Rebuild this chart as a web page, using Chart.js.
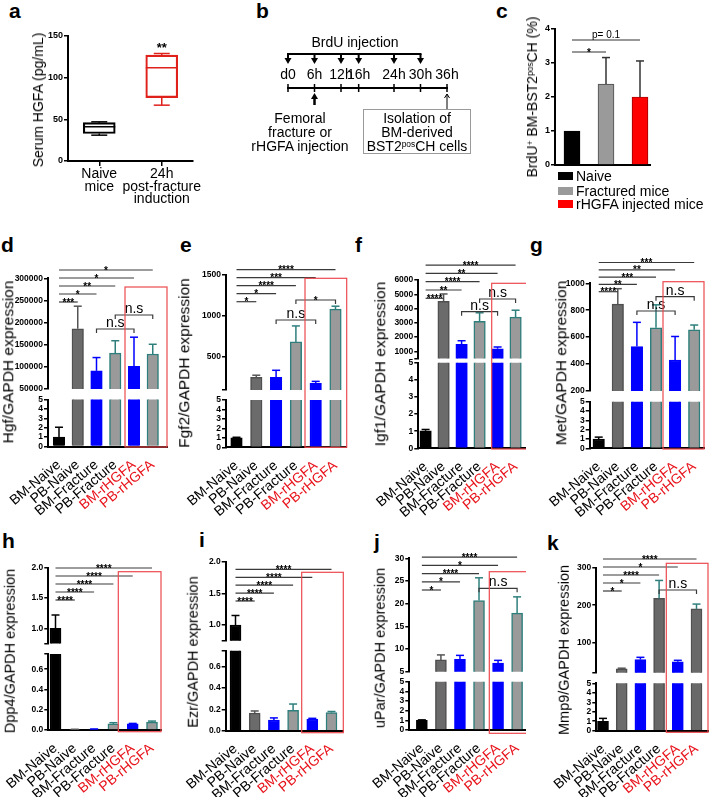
<!DOCTYPE html>
<html>
<head>
<meta charset="utf-8">
<script src="https://cdn.jsdelivr.net/npm/chart.js@4.4.1/dist/chart.umd.min.js"></script>
<style>
  html, body { margin:0; padding:0; background:#fff; }
  body { width:709px; height:797px; position:relative; overflow:hidden; font-family:"Liberation Sans", Arial, Helvetica, sans-serif; color:#000; }
  canvas { position:absolute; }
  .t { position:absolute; white-space:nowrap; line-height:1; }
  .letter { font-weight:bold; font-size:21px; }
  .ytitle { transform: translate(-50%, -50%) rotate(-90deg); }
  .ctr { transform: translate(-50%, -50%); }
  sup { font-size:0.6em; vertical-align: 0.5em; line-height:0; }
</style>
</head>
<body>
<script>
// ---------------- DATA ----------------
// Panel a: serum HGFA box plot
const hgfaGroups = [['Naive', 'mice'], ['24h', 'post-fracture', 'induction']];
const hgfaMin = [31, 67];
const hgfaQ1 = [33, 76];
const hgfaMedian = [41, 112];
const hgfaQ3 = [46, 127];
const hgfaMax = [47, 129];
const hgfaSig = ['', '**'];
const hgfaTicks = [0, 50, 100, 150];

// Panel b: timeline
const timeHours = [0, 6, 12, 16, 24, 30, 36];
const timeLabels = ['d0', '6h', '12h', '16h', '24h', '30h', '36h'];
const brduHours = [0, 6, 12, 16, 24, 30];
const fractureHour = [6];
const isolationHour = [36];

// Panel c: BrdU+ cells
const brduGroups = ['Naive', 'Fractured mice', 'rHGFA injected mice'];
const brduMean = [1.0, 2.38, 2.0];
const brduSD = [0, 0.78, 1.06];
const brduTicks = [0, 1, 2, 3, 4];
const brduCompare = [[0, 1, '*'], [0, 2, 'p= 0.1']];

// Panels d-k: gene expression
const groups = ['BM-Naive', 'PB-Naive', 'BM-Fracture', 'PB-Fracture', 'BM-rHGFA', 'PB-rHGFA'];

const hgfMean = [1.0, 186000, 91000, 131000, 101000, 129000];
const hgfSD = [1.05, 51000, 30000, 28000, 66000, 22000];
const hgfUpperTicks = [50000, 100000, 150000, 200000, 250000, 300000];
const hgfLowerTicks = [0, 1, 2, 3, 4, 5];
const hgfBreak = [5, 50000];
const hgfStars = ['***', '*', '**', '*', '*'];
const hgfPairs = [[2, 4, 'n.s'], [3, 5, 'n.s']];

const fgf2Mean = [1.0, 255, 255, 685, 180, 1085];
const fgf2SD = [0.06, 25, 85, 195, 25, 35];
const fgf2UpperTicks = [500, 1000, 1500];
const fgf2LowerTicks = [0, 1, 2, 3, 4, 5];
const fgf2Break = [5, 100];
const fgf2Stars = ['*', '*', '****', '***', '****'];
const fgf2Pairs = [[2, 4, 'n.s'], [3, 5, '*']];

const igf1Mean = [1.02, 4500, 1480, 3100, 1180, 3400];
const igf1SD = [0.08, 520, 260, 600, 120, 480];
const igf1UpperTicks = [1000, 2000, 3000, 4000, 5000, 6000];
const igf1LowerTicks = [0, 1, 2, 3, 4, 5];
const igf1Break = [5, 500];
const igf1Stars = ['****', '**', '****', '**', '****'];
const igf1Pairs = [[2, 4, 'n.s'], [3, 5, 'n.s']];

const metMean = [1.0, 845, 530, 670, 430, 655];
const metSD = [0.2, 115, 180, 170, 175, 35];
const metUpperTicks = [200, 400, 600, 800, 1000];
const metLowerTicks = [0, 1, 2, 3, 4, 5];
const metBreak = [5, 200];
const metStars = ['****', '**', '***', '**', '***'];
const metPairs = [[2, 4, 'n.s'], [3, 5, 'n.s']];

const dpp4Mean = [1.0, 0.005, 0.008, 0.06, 0.06, 0.078];
const dpp4SD = [0.22, 0.002, 0.002, 0.012, 0.005, 0.01];
const dpp4UpperTicks = [1.0, 1.5, 2.0];
const dpp4LowerTicks = [0, 0.2, 0.4, 0.6];
const dpp4Break = [0.75, 0.75];
const dpp4Stars = ['****', '****', '****', '****', '****'];

const ezrMean = [1.0, 0.165, 0.1, 0.19, 0.11, 0.17];
const ezrSD = [0.15, 0.02, 0.02, 0.06, 0.006, 0.01];
const ezrUpperTicks = [1.0, 1.5, 2.0];
const ezrLowerTicks = [0, 0.2, 0.4, 0.6];
const ezrBreak = [0.75, 0.75];
const ezrStars = ['****', '****', '****', '****', '****'];

const uparMean = [1.0, 7.6, 7.7, 20.7, 6.9, 17.9];
const uparSD = [0.05, 1.1, 0.9, 5.0, 0.6, 3.6];
const uparUpperTicks = [5, 10, 15, 20, 25, 30];
const uparLowerTicks = [0, 1, 2, 3, 4, 5];
const uparBreak = [5, 5];
const uparStars = ['*', '*', '****', '*', '****'];
const uparPairs = [[3, 5, 'n.s']];

const mmp9Mean = [1.0, 30, 55, 218, 49, 190];
const mmp9SD = [0.3, 2, 6, 48, 4, 13];
const mmp9UpperTicks = [100, 200, 300];
const mmp9LowerTicks = [0, 1, 2, 3, 4, 5];
const mmp9Break = [5, 20];
const mmp9Stars = ['*', '*', '****', '*', '****'];
const mmp9Pairs = [[3, 5, 'n.s']];

// ---------------- STYLE ----------------
const FONT = '"Liberation Sans", Arial, Helvetica, sans-serif';
const RED = '#e8141c';
const barFill = ['#000000', '#6b6b6b', '#0000ff', '#9a9a9a', '#0000ff', '#9a9a9a'];
const barBorder = ['#000000', '#4f4f4f', '#0000ff', '#2e7f7c', '#0000ff', '#2e7f7c'];
const barErr = ['#000000', '#555555', '#0000ff', '#2e7f7c', '#0000ff', '#2e7f7c'];
const darkFill = ['#000000', '#6b6b6b', '#0000ff', '#686868', '#0000ff', '#686868'];
const darkBorder = ['#000000', '#4f4f4f', '#0000ff', '#505050', '#0000ff', '#505050'];
const groupLabelColors = ['#000', '#000', '#000', '#000', RED, RED];
const hgfaColors = ['#000000', '#e0201b'];
const brduFill = ['#000000', '#9a9a9a', '#ff0000'];
const brduBorder = ['#000000', '#5a5a5a', '#b00000'];

Chart.defaults.font.family = FONT;
Chart.defaults.color = '#000';

function canvasAt(l, t, w, h) {
  const c = document.createElement('canvas');
  c.width = w; c.height = h;
  Object.assign(c.style, { left: l + 'px', top: t + 'px', width: w + 'px', height: h + 'px' });
  document.body.appendChild(c);
  return c;
}
function addDiv(html, css, cls) {
  const d = document.createElement('div');
  d.className = 't ' + (cls || '');
  d.innerHTML = html;
  d.style.cssText += css;
  document.body.appendChild(d);
  return d;
}
function seg(ctx, x0, y0, x1, y1) { ctx.beginPath(); ctx.moveTo(x0, y0); ctx.lineTo(x1, y1); ctx.stroke(); }

function yAxis(min, max, ticks, width, fmt, size) {
  return {
    type: 'linear', min: min, max: max, offset: false,
    afterBuildTicks: s => {
      const vals = Array.from(new Set([min, ...ticks, max])).sort((a, b) => a - b);
      s.ticks = vals.map(v => ({ value: v }));
    },
    afterFit: s => { s.width = width; s.paddingTop = 0; s.paddingBottom = 0; },
    ticks: { autoSkip: false, padding: 1, color: '#000', font: { size: size, weight: 'bold' },
      callback: v => ticks.includes(v) ? fmt(v) : '' },
    grid: { display: true, drawOnChartArea: false, drawTicks: true, tickLength: 4, color: '#000', lineWidth: 1.5 },
    border: { display: true, color: '#000', width: 2 }
  };
}
function baseOpts(padding, scales) {
  return { responsive: false, devicePixelRatio: 1, animation: false, events: [],
    layout: { padding: padding }, scales: scales,
    plugins: { legend: { display: false }, tooltip: { enabled: false } } };
}

// ---------------- PANEL LETTERS ----------------
[['a', 9, 0], ['b', 256, 0], ['c', 496, 0], ['d', 1, 234], ['e', 180, 234], ['f', 355, 234], ['g', 530, 234],
 ['h', 2, 530], ['i', 199, 529], ['j', 374, 531], ['k', 547, 532]].forEach(([s, x, y]) =>
  addDiv(s, `left:${x}px;top:${y}px;`, 'letter'));

// ---------------- PANEL a ----------------
(function () {
  const L = { left: 0, top: 20, width: 230, height: 200, axisX: 68, right: 193, yTop: 36, yBot: 161 };
  const plug = { id: 'boxw', afterDatasetsDraw(chart) {
    const ctx = chart.ctx, xs = chart.scales.x, ys = chart.scales.y;
    ctx.save(); ctx.lineWidth = 1.5;
    hgfaGroups.forEach((g, i) => {
      const x = xs.getPixelForValue(i), hw = 16, cw = 8;
      ctx.strokeStyle = hgfaColors[i];
      const ym = ys.getPixelForValue(hgfaMedian[i]);
      seg(ctx, x - hw, ym, x + hw, ym);
      seg(ctx, x, ys.getPixelForValue(hgfaQ3[i]), x, ys.getPixelForValue(hgfaMax[i]));
      seg(ctx, x - cw, ys.getPixelForValue(hgfaMax[i]), x + cw, ys.getPixelForValue(hgfaMax[i]));
      seg(ctx, x, ys.getPixelForValue(hgfaQ1[i]), x, ys.getPixelForValue(hgfaMin[i]));
      seg(ctx, x - cw, ys.getPixelForValue(hgfaMin[i]), x + cw, ys.getPixelForValue(hgfaMin[i]));
      if (hgfaSig[i]) {
        ctx.fillStyle = '#000'; ctx.font = `bold 13px ${FONT}`; ctx.textAlign = 'center';
        ctx.fillText(hgfaSig[i], x, ys.getPixelForValue(hgfaMax[i]) - 2);
      }
    });
    ctx.restore();
  } };
  new Chart(canvasAt(L.left, L.top, L.width, L.height), {
    type: 'bar',
    data: { labels: hgfaGroups, datasets: [{ data: hgfaQ1.map((q, i) => [q, hgfaQ3[i]]),
      backgroundColor: 'rgba(255,255,255,0)', borderColor: hgfaColors, borderWidth: 1.5, borderSkipped: false, barThickness: 32 }] },
    options: baseOpts({ left: 0, right: L.width - (L.right - L.left), top: L.yTop - L.top, bottom: 0 }, {
      x: { type: 'category', offset: true,
        afterFit: s => { s.height = L.top + L.height - L.yBot; s.paddingLeft = 0; s.paddingRight = 0; },
        grid: { display: true, drawOnChartArea: false, offset: false, tickLength: 5, color: '#000', lineWidth: 1.5 },
        border: { display: true, color: '#000', width: 2 },
        ticks: { font: { size: 14, lineHeight: 0.9 }, padding: 2, maxRotation: 0, autoSkip: false, color: '#000' } },
      y: yAxis(0, 150, hgfaTicks, L.axisX - L.left, v => String(v), 9)
    }),
    plugins: [plug]
  });
  addDiv('Serum HGFA (pg/mL)', 'left:38px;top:100px;font-size:14px;', 'ytitle');
})();

// ---------------- PANEL b ----------------
(function () {
  const L = { left: 235, top: 20, width: 245, height: 200, x0: 288, x1: 447, axisY: 88 };
  const Y = py => py - L.top;
  const plug = { id: 'timeline', afterDraw(chart) {
    const ctx = chart.ctx, xs = chart.scales.x;
    ctx.save(); ctx.strokeStyle = '#000'; ctx.fillStyle = '#000';
    const xa = xs.getPixelForValue(brduHours[0]), xb = xs.getPixelForValue(brduHours[brduHours.length - 1]);
    ctx.lineWidth = 2; seg(ctx, xa - 1, Y(54), xb + 1, Y(54));
    brduHours.forEach(h => {
      const x = xs.getPixelForValue(h);
      ctx.lineWidth = 2; seg(ctx, x, Y(54), x, Y(59));
      ctx.beginPath(); ctx.moveTo(x - 3.5, Y(58)); ctx.lineTo(x + 3.5, Y(58)); ctx.lineTo(x, Y(64)); ctx.closePath(); ctx.fill();
    });
    fractureHour.forEach(h => {
      const x = xs.getPixelForValue(h);
      ctx.lineWidth = 2.5; seg(ctx, x, Y(105), x, Y(98));
      ctx.beginPath(); ctx.moveTo(x - 3.5, Y(99)); ctx.lineTo(x + 3.5, Y(99)); ctx.lineTo(x, Y(93)); ctx.closePath(); ctx.fill();
    });
    isolationHour.forEach(h => {
      const x = xs.getPixelForValue(h);
      ctx.lineWidth = 1; seg(ctx, x, Y(109), x, Y(94));
      ctx.beginPath(); ctx.moveTo(x - 2.5, Y(98)); ctx.lineTo(x, Y(94)); ctx.lineTo(x + 2.5, Y(98)); ctx.stroke();
    });
    ctx.restore();
  } };
  new Chart(canvasAt(L.left, L.top, L.width, L.height), {
    type: 'scatter',
    data: { datasets: [{ data: timeHours.map(h => ({ x: h, y: 0 })), pointStyle: 'line', pointRotation: 90,
      pointRadius: 4, pointBorderColor: '#000', pointBorderWidth: 1.5, borderColor: '#000', clip: false, showLine: false }] },
    options: baseOpts({ left: L.x0 - L.left, right: L.left + L.width - L.x1, top: 0, bottom: 0 }, {
      x: { type: 'linear', position: 'top', min: 0, max: 36, offset: false,
        afterBuildTicks: s => { s.ticks = timeHours.map(v => ({ value: v })); },
        afterFit: s => { s.height = L.axisY - L.top; s.paddingLeft = 0; s.paddingRight = 0; },
        ticks: { autoSkip: false, maxRotation: 0, minRotation: 0, padding: -4, font: { size: 14 }, color: '#000',
          callback: (v, i) => timeLabels[i] },
        grid: { display: false }, border: { display: true, color: '#000', width: 2 } },
      y: { type: 'linear', display: false, min: 0, max: 1, reverse: true }
    }),
    plugins: [plug]
  });
  addDiv('BrdU injection', 'left:355px;top:42px;font-size:14px;', 'ctr');
  addDiv('Femoral<br>fracture or<br>rHGFA injection',
    'left:300px;top:111px;font-size:14px;line-height:14px;text-align:center;transform:translateX(-50%);');
  addDiv('Isolation of<br>BM-derived<br>BST2<sup>pos</sup>CH cells',
    'left:363px;top:109px;width:108px;height:45px;box-sizing:border-box;border:1px solid #9a9a9a;font-size:14px;line-height:14px;text-align:center;padding-top:1px;');
})();

// ---------------- PANEL c ----------------
(function () {
  const L = { left: 470, top: 20, width: 239, height: 150, axisX: 555, c0: 572, step: 34, right: 650, yTop: 29, yBot: 165, cmpY: [52, 40] };
  const Y = py => py - L.top;
  const plug = { id: 'cerr', afterDatasetsDraw(chart) {
    const ctx = chart.ctx, xs = chart.scales.x, ys = chart.scales.y;
    ctx.save(); ctx.lineWidth = 1.5; ctx.strokeStyle = '#333';
    brduMean.forEach((m, i) => {
      if (!brduSD[i]) return;
      const x = xs.getPixelForValue(i), y0 = ys.getPixelForValue(m), y1 = ys.getPixelForValue(m + brduSD[i]);
      seg(ctx, x, y0, x, y1); seg(ctx, x - 4, y1, x + 4, y1);
    });
    ctx.lineWidth = 1.2; ctx.fillStyle = '#000'; ctx.textAlign = 'center';
    brduCompare.forEach(([a, b, lab], k) => {
      const y = Y(L.cmpY[k]), xa = xs.getPixelForValue(a), xb = xs.getPixelForValue(b);
      seg(ctx, xa, y, xb, y);
      if (lab.startsWith('*')) { ctx.font = `bold 10px ${FONT}`; ctx.fillText(lab, (xa + xb) / 2, y + 3.5); }
      else { ctx.font = `10px ${FONT}`; ctx.fillText(lab, (xa + xb) / 2, y - 2.5); }
    });
    ctx.restore();
  } };
  new Chart(canvasAt(L.left, L.top, L.width, L.height), {
    type: 'bar',
    data: { datasets: [{ data: brduMean.map((v, i) => ({ x: i, y: v })), backgroundColor: brduFill, borderColor: brduBorder,
      borderWidth: 1.2, barThickness: 16, clip: 0 }] },
    options: baseOpts({ left: 0, right: L.left + L.width - L.right, top: L.yTop - L.top, bottom: 0 }, {
      x: { type: 'linear', offset: false, min: -(L.c0 - L.axisX) / L.step, max: 2 + (L.right - (L.c0 + 2 * L.step)) / L.step,
        ticks: { display: false }, grid: { display: false }, border: { display: true, color: '#000', width: 2 },
        afterFit: s => { s.height = L.top + L.height - L.yBot; s.paddingLeft = 0; s.paddingRight = 0; } },
      y: yAxis(0, 4, brduTicks, L.axisX - L.left, v => String(v), 9)
    }),
    plugins: [plug]
  });
  addDiv('BrdU<sup>+</sup> BM-BST2<sup>pos</sup>CH (%)', 'left:532px;top:97px;font-size:14px;', 'ytitle');
  const rowY = [176, 191, 204];
  brduGroups.forEach((g, i) => addDiv(
    `<span style="display:inline-block;width:15px;height:8px;background:${brduFill[i]};margin-right:3px;vertical-align:1px"></span>${g}`,
    `left:558px;top:${rowY[i] - 7}px;font-size:14px;`));
})();

// ---------------- BROKEN-AXIS PANELS ----------------
function brokenPanel(L, D) {
  const W = L.width, H = L.height;
  const xMin = -(L.c0 - L.axisX) / L.step;
  const xMax = 5 + (L.right - (L.c0 + 5 * L.step)) / L.step;
  const yW = L.axisX - L.left;
  const padR = W - (L.right - L.left);
  const Y = py => py - L.top;
  const lowMax = D.brk[0], upMin = D.brk[1];
  const upMax = D.up[D.up.length - 1];
  const fmt = D.fmt || (v => String(v));
  const fills = D.fills || barFill, borders = D.borders || barBorder, errs = D.errs || barErr;
  const ds = upper => ({
    data: D.mean.map((v, i) => ({ x: i, y: upper ? (v > lowMax ? v : null) : v })),
    backgroundColor: fills, borderColor: borders, borderWidth: 1.5, barThickness: L.bar, clip: 0
  });
  const errPlugin = upper => ({ id: 'err', afterDatasetsDraw(chart) {
    const ctx = chart.ctx, xs = chart.scales.x, ys = chart.scales.y;
    ctx.save(); ctx.lineWidth = 1.5;
    D.mean.forEach((m, i) => {
      if ((m > lowMax) !== upper) return;
      const px = xs.getPixelForValue(i), y0 = ys.getPixelForValue(m), y1 = ys.getPixelForValue(m + D.sd[i]);
      ctx.strokeStyle = errs[i];
      seg(ctx, px, y0, px, y1); seg(ctx, px - 4, y1, px + 4, y1);
    });
    ctx.restore();
  } });
  const sigPlugin = { id: 'sig', afterDraw(chart) {
    const ctx = chart.ctx, xs = chart.scales.x;
    ctx.save(); ctx.strokeStyle = '#3a3a3a'; ctx.fillStyle = '#000'; ctx.lineWidth = 1.2; ctx.textAlign = 'center';
    D.stars.forEach((lab, k) => {
      const y = Y(L.sigBase - k * L.sigStep), x0 = xs.getPixelForValue(0), x1 = xs.getPixelForValue(k + 1);
      seg(ctx, x0, y, x1, y);
      ctx.font = `bold 10px ${FONT}`; ctx.fillText(lab, (x0 + x1) / 2, y + 3.5);
    });
    (D.pairs || []).forEach(([a, b, lab], k) => {
      const y = Y(L.brY[k]), xa = xs.getPixelForValue(a), xb = xs.getPixelForValue(b);
      ctx.beginPath(); ctx.moveTo(xa, y + 4); ctx.lineTo(xa, y); ctx.lineTo(xb, y); ctx.lineTo(xb, y + 4); ctx.stroke();
      if (lab === 'n.s') { ctx.font = `14px ${FONT}`; ctx.fillText(lab, (xa + xb) / 2, y - 2); }
      else { ctx.font = `bold 10px ${FONT}`; ctx.fillText(lab, (xa + xb) / 2, y + 3.5); }
    });
    ctx.restore();
  } };
  const framePlugin = { id: 'frame', afterDraw(chart) {
    const ctx = chart.ctx;
    ctx.save(); ctx.strokeStyle = '#ec4a4f'; ctx.lineWidth = 1.2;
    ctx.strokeRect(L.box[0] - L.left, Y(L.box[2]), L.box[1] - L.box[0], L.box[3] - L.box[2]);
    ctx.restore();
  } };
  new Chart(canvasAt(L.left, L.top, W, H), {
    type: 'bar', data: { datasets: [ds(true)] },
    options: baseOpts({ left: 0, right: padR, top: Y(L.uTop), bottom: H - Y(L.uBot) }, {
      x: { type: 'linear', display: false, offset: false, min: xMin, max: xMax },
      y: yAxis(upMin, upMax, D.up, yW, fmt, 8.5) }),
    plugins: [errPlugin(true), sigPlugin]
  });
  new Chart(canvasAt(L.left, L.top, W, H), {
    type: 'bar', data: { datasets: [ds(false)] },
    options: baseOpts({ left: 0, right: padR, top: Y(L.lTop), bottom: 0 }, {
      x: { type: 'linear', offset: false, min: xMin, max: xMax,
        afterBuildTicks: s => { s.ticks = groups.map((g, i) => ({ value: i })); },
        afterFit: s => { s.height = H - Y(L.lBot); s.paddingLeft = 0; s.paddingRight = 0; },
        ticks: { autoSkip: false, minRotation: 40, maxRotation: 40, padding: 2, font: { size: 14 },
          color: c => groupLabelColors[c.index], callback: (v, i) => groups[i] },
        grid: { display: false }, border: { display: true, color: '#000', width: 2 } },
      y: yAxis(0, lowMax, D.low, yW, fmt, 8.5) }),
    plugins: [errPlugin(false), framePlugin]
  });
  addDiv(D.title, `left:${L.titleX}px;top:${L.titleY}px;font-size:${L.titleSize}px;`, 'ytitle');
}

const dec1 = v => v.toFixed(1);

brokenPanel({ left: 0, top: 228, width: 175, height: 292, axisX: 48, c0: 59, step: 18.75, right: 167, bar: 11.5,
  uTop: 278.3, uBot: 389, lTop: 399.5, lBot: 446.5, sigBase: 302, sigStep: 8, brY: [329, 315],
  box: [125, 167, 287, 447], titleX: 8, titleY: 362, titleSize: 15.5 },
  { mean: hgfMean, sd: hgfSD, up: hgfUpperTicks, low: hgfLowerTicks, brk: hgfBreak, stars: hgfStars, pairs: hgfPairs, title: 'Hgf/GAPDH expression' });

brokenPanel({ left: 175, top: 228, width: 175, height: 292, axisX: 226, c0: 236.5, step: 19.8, right: 346.7, bar: 11.5,
  uTop: 275, uBot: 390, lTop: 400, lBot: 447.3, sigBase: 301.7, sigStep: 8, brY: [320, 300],
  box: [305, 346.7, 278.3, 447.3], titleX: 184, titleY: 363, titleSize: 15.5 },
  { mean: fgf2Mean, sd: fgf2SD, up: fgf2UpperTicks, low: fgf2LowerTicks, brk: fgf2Break, stars: fgf2Stars, pairs: fgf2Pairs, title: 'Fgf2/GAPDH expression' });

brokenPanel({ left: 350, top: 228, width: 176, height: 292, axisX: 418.3, c0: 426, step: 19, right: 532, bar: 11.5,
  uTop: 280, uBot: 358.4, lTop: 362.7, lBot: 448.3, sigBase: 298.3, sigStep: 8.3, brY: [311.7, 299],
  box: [491.7, 532, 283.3, 449], titleX: 380, titleY: 364, titleSize: 15.5 },
  { mean: igf1Mean, sd: igf1SD, up: igf1UpperTicks, low: igf1LowerTicks, brk: igf1Break, stars: igf1Stars, pairs: igf1Pairs, title: 'Igf1/GAPDH expression' });

brokenPanel({ left: 526, top: 228, width: 183, height: 292, axisX: 589.7, c0: 598.7, step: 19.1, right: 704, bar: 11.5,
  uTop: 283.3, uBot: 391, lTop: 401.7, lBot: 448.3, sigBase: 291.7, sigStep: 7.3, brY: [311, 296.7],
  box: [663, 704, 281.7, 449], titleX: 561, titleY: 363, titleSize: 15.5 },
  { mean: metMean, sd: metSD, up: metUpperTicks, low: metLowerTicks, brk: metBreak, stars: metStars, pairs: metPairs, title: 'Met/GAPDH expression' });

brokenPanel({ left: 0, top: 525, width: 175, height: 272, axisX: 48.3, c0: 55.5, step: 19.3, right: 161, bar: 11,
  uTop: 567.7, uBot: 643.5, lTop: 654, lBot: 730, sigBase: 600, sigStep: 8, brY: [],
  box: [118.3, 161, 571.7, 731.7], titleX: 10, titleY: 651, titleSize: 14.5 },
  { mean: dpp4Mean, sd: dpp4SD, up: dpp4UpperTicks, low: dpp4LowerTicks, brk: dpp4Break, stars: dpp4Stars, pairs: [], fmt: dec1, title: 'Dpp4/GAPDH expression' });

brokenPanel({ left: 175, top: 525, width: 175, height: 272, axisX: 225.7, c0: 235.5, step: 19.2, right: 343.3, bar: 11,
  uTop: 561.7, uBot: 640.8, lTop: 650.7, lBot: 730.7, sigBase: 601, sigStep: 7.9, brY: [],
  box: [301.7, 343.3, 572.3, 732.7], titleX: 193, titleY: 652, titleSize: 14.5 },
  { mean: ezrMean, sd: ezrSD, up: ezrUpperTicks, low: ezrLowerTicks, brk: ezrBreak, stars: ezrStars, pairs: [], fmt: dec1, title: 'Ezr/GAPDH expression' });

brokenPanel({ left: 350, top: 525, width: 176, height: 272, axisX: 409.3, c0: 422.3, step: 19.7, right: 530, bar: 11,
  uTop: 558.3, uBot: 671.7, lTop: 681.7, lBot: 730, sigBase: 590, sigStep: 8.2, brY: [588.3],
  box: [489.3, 530, 571.7, 733.3], titleX: 380, titleY: 648, titleSize: 14.5 },
  { mean: uparMean, sd: uparSD, up: uparUpperTicks, low: uparLowerTicks, brk: uparBreak, stars: uparStars, pairs: uparPairs, title: 'uPar/GAPDH expression' });

brokenPanel({ left: 526, top: 525, width: 183, height: 272, axisX: 596.3, c0: 603, step: 18.7, right: 708, bar: 11,
  uTop: 567.7, uBot: 672.7, lTop: 683.3, lBot: 730.7, sigBase: 591, sigStep: 8, brY: [590],
  box: [666.3, 708, 563.3, 732.3], titleX: 564, titleY: 650, titleSize: 14.5 },
  { mean: mmp9Mean, sd: mmp9SD, up: mmp9UpperTicks, low: mmp9LowerTicks, brk: mmp9Break, stars: mmp9Stars, pairs: mmp9Pairs,
    fills: darkFill, borders: darkBorder, title: 'Mmp9/GAPDH expression' });
</script>
</body>
</html>
